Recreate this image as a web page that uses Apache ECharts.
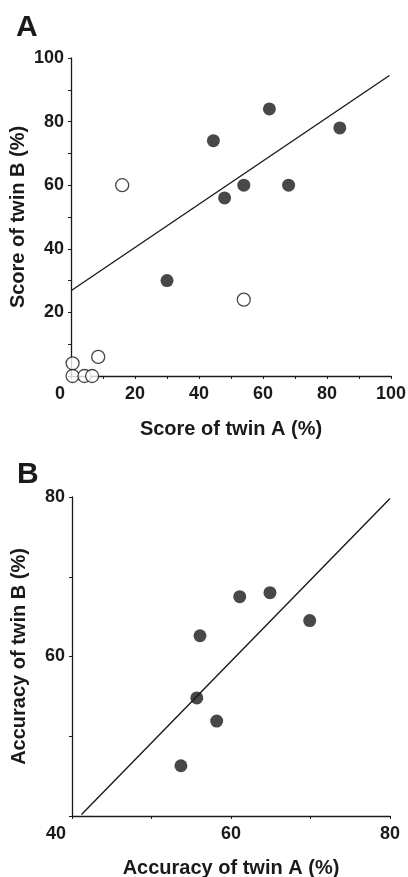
<!DOCTYPE html>
<html>
<head>
<meta charset="utf-8">
<script src="https://cdn.jsdelivr.net/npm/echarts@6/dist/echarts.min.js"></script>
<style>
  html, body { margin: 0; padding: 0; background: #fff; }
  #main { width: 408px; height: 877px; }
</style>
</head>
<body>
<div id="main"></div>
<script>
// panel A: scores of twin pairs (filled / open) and fitted line
var scoreFilled = [[44.5, 74], [62, 84], [84, 78], [48, 56], [54, 60], [68, 60], [30, 30]];
var scoreOpen = [[16, 60], [54, 24], [0.5, 4], [0.5, 0], [4.2, 0], [6.6, 0], [8.5, 6]];
var scoreFit = [[0, 26.8], [99.5, 94.5]];
var scoreTicks = [0, 20, 40, 60, 80, 100];

// panel B: accuracy of twin pairs and line
var accPoints = [[61.1, 67.5], [64.9, 68], [69.9, 64.5], [56.1, 62.6], [55.7, 54.8], [58.2, 51.9], [53.7, 46.3]];
var accFit = [[41.2, 40.2], [80, 79.8]];
var accTicks = [40, 60, 80];

var ink = '#1a1a1a';
var font = 'Liberation Sans, Arial, sans-serif';

function labelFmt(ticks, showMin) {
    return function (v) {
        if (ticks.indexOf(v) < 0) return '';
        if (v === ticks[0]) return showMin ? '{m|' + v + '}' : '';
        return String(v);
    };
}

function xAxisCfg(idx, min, max, ticks, name, gap) {
    return {
        gridIndex: idx, type: 'value', min: min, max: max, interval: 10,
        name: name, nameLocation: 'middle', nameGap: gap, nameMoveOverlap: false,
        nameTextStyle: { color: ink, fontSize: 20, fontWeight: 'bold', fontFamily: font },
        axisLine: { lineStyle: { color: ink, width: 1.3 } },
        axisTick: { length: 3, lineStyle: { color: ink, width: 1 } },
        axisLabel: {
            color: ink, fontSize: 18, fontWeight: 'bold', fontFamily: font, margin: 9,
            showMinLabel: true, alignMinLabel: 'right',
            formatter: labelFmt(ticks, true),
            rich: { m: { color: ink, fontSize: 18, fontWeight: 'bold', fontFamily: font, padding: [0, 6, 0, 0] } }
        },
        splitLine: { show: false }
    };
}

function yAxisCfg(idx, min, max, ticks, name, gap) {
    return {
        gridIndex: idx, type: 'value', min: min, max: max, interval: 10,
        name: name, nameLocation: 'middle', nameGap: gap, nameMoveOverlap: false,
        nameTextStyle: { color: ink, fontSize: 20, fontWeight: 'bold', fontFamily: font },
        axisLine: { show: true, lineStyle: { color: ink, width: 1.3 } },
        axisTick: { show: true, length: 3, lineStyle: { color: ink, width: 1 } },
        axisLabel: {
            color: ink, fontSize: 18, fontWeight: 'bold', fontFamily: font, margin: 7,
            formatter: labelFmt(ticks, false)
        },
        splitLine: { show: false }
    };
}

var myChart = echarts.init(document.getElementById('main'));
var option = {
    backgroundColor: '#fff',
    animation: false,
    title: [
        { text: 'A', left: 11, top: 8, textStyle: { color: ink, fontSize: 30, fontWeight: 'bold', fontFamily: font } },
        { text: 'B', left: 12, top: 455, textStyle: { color: ink, fontSize: 30, fontWeight: 'bold', fontFamily: font } }
    ],
    grid: [
        { left: 71, top: 58, width: 320, height: 318, containLabel: false, outerBoundsMode: 'none' },
        { left: 72, top: 497, width: 318, height: 319, containLabel: false, outerBoundsMode: 'none' }
    ],
    xAxis: [
        xAxisCfg(0, 0, 100, scoreTicks, 'Score of twin A (%)', 43),
        xAxisCfg(1, 40, 80, accTicks, 'Accuracy of twin A (%)', 42)
    ],
    yAxis: [
        yAxisCfg(0, 0, 100, scoreTicks, 'Score of twin B (%)', 43),
        yAxisCfg(1, 40, 80, accTicks, 'Accuracy of twin B (%)', 43)
    ],
    series: [
        {
            type: 'line', xAxisIndex: 0, yAxisIndex: 0, data: scoreFit, showSymbol: false, symbol: 'none',
            lineStyle: { color: ink, width: 1.4 }, silent: true
        },
        {
            type: 'scatter', xAxisIndex: 0, yAxisIndex: 0, data: scoreOpen, symbolSize: 13,
            itemStyle: { color: '#fff', borderColor: ink, borderWidth: 1.3 }
        },
        {
            type: 'scatter', xAxisIndex: 0, yAxisIndex: 0, data: scoreFilled, symbolSize: 13,
            itemStyle: { color: ink }
        },
        {
            type: 'line', xAxisIndex: 1, yAxisIndex: 1, data: accFit, showSymbol: false, symbol: 'none',
            lineStyle: { color: ink, width: 1.4 }, silent: true
        },
        {
            type: 'scatter', xAxisIndex: 1, yAxisIndex: 1, data: accPoints, symbolSize: 13,
            itemStyle: { color: ink }
        }
    ]
};
myChart.setOption(option, true);
</script>
</body>
</html>
